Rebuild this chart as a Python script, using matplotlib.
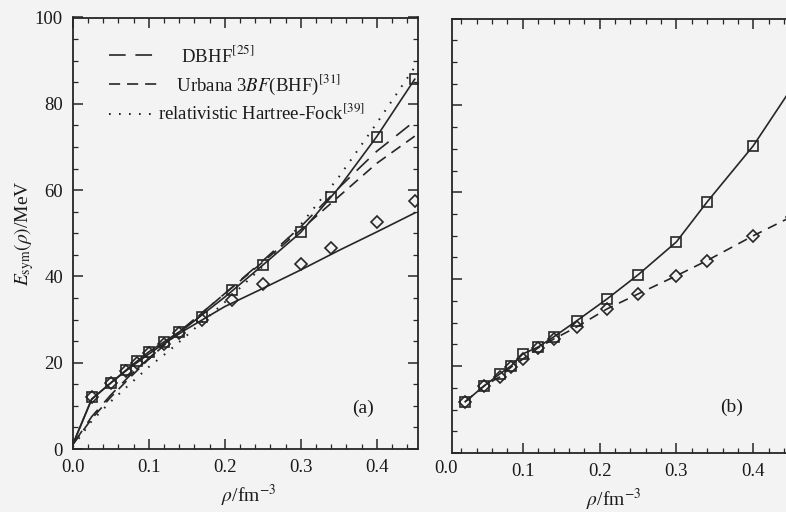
import matplotlib
matplotlib.use('Agg')
import matplotlib.pyplot as plt
from matplotlib.ticker import MultipleLocator
import matplotlib.transforms as mtrans
from matplotlib.lines import Line2D

plt.rcParams['font.family'] = ['Liberation Serif', 'DejaVu Serif']
plt.rcParams['mathtext.fontset'] = 'stix'
plt.rcParams['lines.scale_dashes'] = False

# ---------------- data ----------------
rho_pts = [0.025, 0.05, 0.07, 0.085, 0.1, 0.12, 0.14, 0.17, 0.21, 0.25, 0.30, 0.34, 0.40, 0.45]
a_squares = [12.0, 15.3, 18.2, 20.3, 22.5, 24.8, 27.2, 30.7, 36.8, 42.6, 50.2, 58.5, 72.4, 85.7]
a_diamonds = [12.0, 15.3, 18.0, 20.0, 22.2, 24.4, 26.8, 29.8, 34.5, 38.2, 42.8, 46.6, 52.6, 57.5]

rho_curve = [0.0, 0.025, 0.05, 0.075, 0.1, 0.125, 0.15, 0.2, 0.25, 0.3, 0.35, 0.4, 0.45]
a_upper_fit = [1.0, 11.6, 15.3, 19.0, 22.5, 25.4, 28.3, 35.2, 42.6, 50.2, 60.5, 72.4, 85.7]
a_lower_fit = [1.0, 11.5, 15.3, 18.8, 22.0, 25.0, 27.8, 33.0, 37.2, 41.5, 46.0, 50.3, 54.7]
dbhf = [1.0, 7.5, 12.5, 17.0, 21.0, 25.0, 28.6, 36.0, 43.6, 51.5, 60.5, 69.0, 76.0]
urbana = [1.0, 7.0, 12.0, 16.5, 20.8, 24.8, 28.5, 36.0, 43.3, 50.8, 58.5, 66.2, 72.5]
rhf = [0.5, 6.5, 11.0, 15.0, 19.0, 22.5, 26.3, 34.0, 42.3, 52.0, 63.0, 75.5, 88.5]

b_squares = [11.8, 15.5, 18.2, 20.1, 22.8, 24.4, 26.7, 30.4, 35.5, 41.0, 48.6, 57.8, 70.7, 84.0]
b_diamonds = [11.8, 15.5, 17.5, 19.8, 21.6, 24.2, 26.2, 29.0, 33.2, 36.6, 40.8, 44.3, 50.0, 54.4]

legend_labels = ['DBHF$^{[25]}$', 'Urbana 3$BF$(BHF)$^{[31]}$', 'relativistic Hartree-Fock$^{[39]}$']
x_ticks = [0.0, 0.1, 0.2, 0.3, 0.4]
y_ticks = [0, 20, 40, 60, 80, 100]

# ---------------- figure ----------------
W, H = 786, 512
bg = '#f3f3f3'
ink = '#262626'
fig = plt.figure(figsize=(W / 100, H / 100), dpi=100, facecolor=bg)

def px_axes(l, r, t, b):
    return fig.add_axes([l / W, (H - b) / H, (r - l) / W, (b - t) / H])

ax_a = px_axes(72.7, 418, 17.5, 449)
ax_b = px_axes(452, 795.5, 18.5, 453)

tick_fs = 13.5
for ax in (ax_a, ax_b):
    ax.set_facecolor(bg)
    for s in ax.spines.values():
        s.set_color(ink)
        s.set_linewidth(1.3)
    ax.set_ylim(0, 100)
    ax.set_yticks(y_ticks)
    ax.yaxis.set_minor_locator(MultipleLocator(5))
    ax.xaxis.set_minor_locator(MultipleLocator(0.02))
    ax.tick_params(which='both', direction='in', top=True, right=True, colors=ink,
                   labelsize=tick_fs, labelcolor='#1a1a1a')
    ax.tick_params(which='major', length=7, width=1.1, pad=7)
    ax.tick_params(which='minor', length=3.5, width=0.9)
    ax.set_xlabel(r'$\rho$/fm$^{-3}$', fontsize=14, color='#1a1a1a')

ax_a.set_xlim(0, 0.4543)
ax_a.set_xticks(x_ticks)
ax_a.set_xticklabels([f'{v:.1f}' for v in x_ticks])
ax_a.set_yticklabels([str(v) for v in y_ticks])
ax_a.set_ylabel(r'$E_{\rm sym}(\rho)$/MeV', fontsize=14, color='#1a1a1a')
ax_a.yaxis.set_label_coords(-0.107, 0.5)
ax_a.xaxis.set_label_coords(0.51, -0.078)

ax_b.set_xlim(0.0078, 0.455)
ax_b.set_xticks(x_ticks[1:])
ax_b.set_xticklabels([f'{v:.1f}' for v in x_ticks[1:]])
ax_b.tick_params(axis='y', labelleft=False)
ax_b.xaxis.set_label_coords(0.47, -0.078)
trans = mtrans.blended_transform_factory(ax_b.transData, ax_b.transAxes)
ax_b.text(x_ticks[0], -0.0165, f'{x_ticks[0]:.1f}', transform=trans, ha='center', va='top',
          fontsize=tick_fs, color='#1a1a1a', clip_on=False)

lw = 1.2
long_dash = (0, (12, 7))
short_dash = (0, (8, 5))
dots = (0, (1.2, 6))
mk = dict(markerfacecolor='none', markeredgecolor=ink, markeredgewidth=1.2)

# panel (a)
ax_a.plot(rho_curve, dbhf, color=ink, lw=lw, linestyle=long_dash)
ax_a.plot(rho_curve, urbana, color=ink, lw=lw, linestyle=short_dash)
ax_a.plot(rho_curve, rhf, color=ink, lw=lw * 1.2, linestyle=dots)
ax_a.plot(rho_curve, a_upper_fit, color=ink, lw=lw)
ax_a.plot(rho_curve, a_lower_fit, color=ink, lw=lw)
ax_a.plot(rho_pts, a_squares, linestyle='none', marker='s', markersize=7, **mk)
ax_a.plot(rho_pts, a_diamonds, linestyle='none', marker='D', markersize=6.5, **mk)
ax_a.text(0.84, 0.095, '(a)', transform=ax_a.transAxes, fontsize=14, color='#1a1a1a',
          ha='center', va='center')

handles = [Line2D([], [], color=ink, lw=lw, linestyle=long_dash),
           Line2D([], [], color=ink, lw=lw, linestyle=short_dash),
           Line2D([], [], color=ink, lw=lw * 1.2, linestyle=dots)]
pads = ['     ', '    ', '']
leg = ax_a.legend(handles, [p + l for p, l in zip(pads, legend_labels)],
                  loc='upper left', bbox_to_anchor=(0.105, 0.937), frameon=False,
                  fontsize=13.5, handlelength=2.55, handletextpad=0.05,
                  labelspacing=0.38, borderpad=0, borderaxespad=0)
for t in leg.get_texts():
    t.set_color('#1a1a1a')

# panel (b)
ax_b.plot(rho_pts, b_squares, color=ink, lw=lw, marker='s', markersize=7, **mk)
ax_b.plot(rho_pts, b_diamonds, color=ink, lw=lw, linestyle=(0, (7, 5)),
          marker='D', markersize=6.5, **mk)
ax_b.text(0.815, 0.105, '(b)', transform=ax_b.transAxes, fontsize=14, color='#1a1a1a',
          ha='center', va='center')

fig.savefig('out.png', dpi=100, facecolor=bg)
